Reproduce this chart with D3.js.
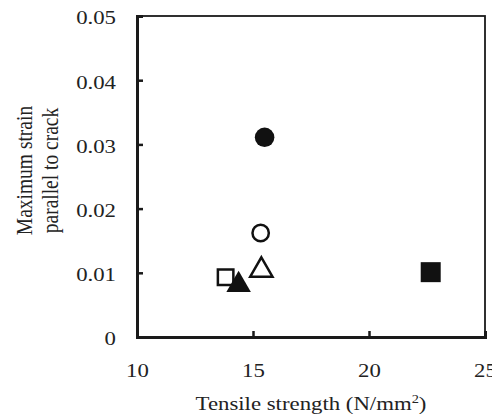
<!DOCTYPE html>
<html lang="en">
<head>
<meta charset="UTF-8">
<title>Strain vs tensile strength</title>
<script src="https://d3js.org/d3.v7.min.js"></script>
<style>
    body { margin: 0; background: #fff; }
    svg text { font-family: "Times New Roman", "Liberation Serif", "DejaVu Serif", serif; fill: #222; }
</style>
</head>
<body>
<script>

// data
const markers  = ['circleFilled', 'circleOpen', 'triangleOpen', 'squareOpen', 'triangleFilled', 'squareFilled'];
const tensile  = [15.5, 15.33, 15.36, 13.82, 14.38, 22.66];
const strain   = [0.0311, 0.0162, 0.0104, 0.0093, 0.0081, 0.0101];
const xTicks = [10, 15, 20, 25];
const yTicks = [0, 0.01, 0.02, 0.03, 0.04, 0.05];
const yTickLabels = ['0', '0.01', '0.02', '0.03', '0.04', '0.05'];

const points = markers.map((m, i) => ({ marker: m, x: tensile[i], y: strain[i] }));

const W = 492, H = 414;
const m = { left: 137, right: 7, top: 16, bottom: 77 };
const serif = '"Times New Roman", "Liberation Serif", "DejaVu Serif", serif';
const stretch = 1.2;   // the original figure's text is a bit wider than tall

const svg = d3.select('body').append('svg')
    .attr('width', W).attr('height', H);

const x = d3.scaleLinear().domain([10, 25]).range([m.left, W - m.right]);
const y = d3.scaleLinear().domain([0, 0.05]).range([H - m.bottom, m.top]);

// plot frame
svg.append('rect')
    .attr('x', x(10)).attr('y', y(0.05))
    .attr('width', x(25) - x(10)).attr('height', y(0) - y(0.05))
    .attr('fill', 'none').attr('stroke', '#1a1a1a').attr('stroke-width', 1.8);

// left and bottom axes, ticks pointing inward
const yAxis = svg.append('g').attr('transform', `translate(${x(10)},0)`)
    .call(d3.axisLeft(y).tickValues(yTicks).tickSize(-6).tickPadding(17.5)
        .tickFormat((d, i) => yTickLabels[i]));
const xAxis = svg.append('g').attr('transform', `translate(0,${y(0)})`)
    .call(d3.axisBottom(x).tickValues(xTicks).tickSize(-6).tickPadding(27));

[yAxis, xAxis].forEach(g => {
    g.attr('font-family', serif).attr('font-size', 19);
    g.select('.domain').attr('stroke', '#1a1a1a').attr('stroke-width', 3);
    g.selectAll('.tick line').attr('stroke', '#1a1a1a').attr('stroke-width', 2.5);
    g.selectAll('.tick text').attr('fill', '#222')
        .attr('transform', `scale(${stretch},1)`);
});
yAxis.selectAll('.tick text').attr('dy', '0.42em');

// markers
const symbolOf = { circle: d3.symbolCircle, triangle: d3.symbolTriangle, square: d3.symbolSquare };
const sizeOf = {
    circleFilled: 300, circleOpen: 210,
    triangleOpen: 215, triangleFilled: 260,
    squareOpen: 240, squareFilled: 400
};

svg.append('g').selectAll('path')
    .data(points)
    .join('path')
    .attr('transform', d => `translate(${x(d.x)},${y(d.y)})`)
    .attr('d', d => d3.symbol(symbolOf[d.marker.replace(/Filled|Open/, '')], sizeOf[d.marker])())
    .attr('fill', d => d.marker.endsWith('Filled') ? '#111' : '#fff')
    .attr('stroke', '#111')
    .attr('stroke-width', d => d.marker.endsWith('Filled') ? 0 : 2.5);

// axis titles
const xt = svg.append('text')
    .attr('transform', `translate(${(x(10) + x(25)) / 2},410) scale(${stretch},1)`)
    .attr('text-anchor', 'middle').attr('font-family', serif).attr('font-size', 19)
    .text('Tensile strength (N/mm');
xt.append('tspan').attr('dy', -7).attr('font-size', 12).text('2');
xt.append('tspan').attr('dy', 7).text(')');

const yt = svg.append('text')
    .attr('transform', `translate(0,${(y(0) + y(0.05)) / 2 - 6}) scale(${stretch},1) rotate(-90)`)
    .attr('text-anchor', 'middle').attr('font-family', serif).attr('font-size', 19.5);
yt.append('tspan').attr('x', 0).attr('y', 27).text('Maximum strain');
yt.append('tspan').attr('x', 0).attr('y', 48.5).text('parallel to crack');

</script>
</body>
</html>
